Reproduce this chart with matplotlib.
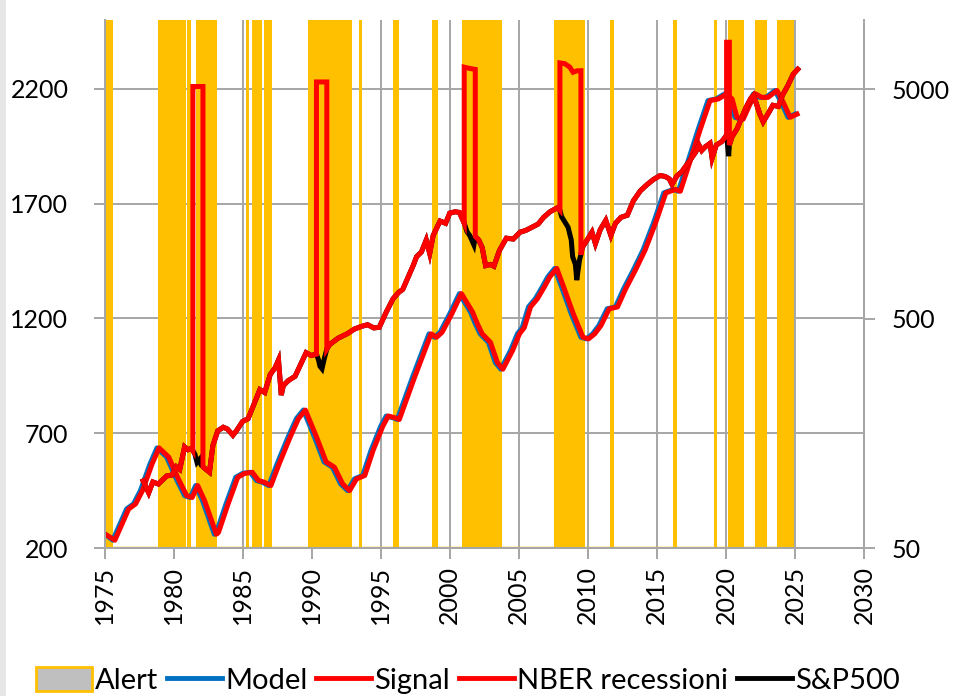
import matplotlib.pyplot as plt
from matplotlib.patches import Patch, Rectangle
from matplotlib.lines import Line2D
from matplotlib.ticker import NullLocator

plt.rcParams['font.family'] = ['Lato', 'DejaVu Sans']

# alert periods (start / end, in years)
alert_start = [1975.0, 1978.91, 1980.99, 1981.64, 1985.27, 1985.67, 1986.52, 1989.73, 1993.43,
               1995.89, 1998.72, 2000.87, 2007.54, 2011.62, 2016.14, 2019.15, 2020.12, 2022.10, 2023.72]
alert_end = [1975.6, 1980.92, 1981.23, 1983.17, 1985.46, 1986.40, 1987.15, 1992.92, 1993.67,
             1996.33, 1999.18, 2003.77, 2009.76, 2011.93, 2016.49, 2019.33, 2021.28, 2022.95, 2024.95]

# model (left axis)
model_years = [1975.0, 1975.6, 1976.6, 1977.1, 1977.6, 1978.3, 1978.8, 1979.5, 1980.2, 1980.8,
               1981.2, 1981.6, 1982.1, 1982.95, 1983.1, 1983.8, 1984.5, 1985.0, 1985.55, 1986.0,
               1986.4, 1986.9, 1987.5, 1988.3, 1988.9, 1989.4, 1990.2, 1990.9, 1991.5, 1992.1,
               1992.6, 1993.1, 1993.7, 1994.3, 1995.0, 1995.4, 1995.9, 1996.2, 1997.3, 1998.5,
               1998.9, 1999.3, 2000.0, 2000.7, 2001.5, 2001.85, 2002.2, 2002.8, 2003.3, 2003.7,
               2004.4, 2004.9, 2005.25, 2005.7, 2006.2, 2006.7, 2007.1, 2007.6, 2008.1, 2008.8,
               2009.5, 2009.9, 2010.35, 2010.8, 2011.4, 2012.0, 2012.6, 2013.3, 2014.0, 2014.75,
               2015.5, 2016.2, 2016.55, 2017.3, 2018.0, 2018.7, 2019.3, 2019.9, 2020.3, 2020.65,
               2021.1, 2021.6, 2022.0, 2022.45, 2022.9, 2023.55, 2024.0, 2024.5, 2025.0]
model_vals = [262, 234, 370, 392, 450, 567, 636, 596, 501, 428,
              420, 472, 406, 260, 267, 392, 508, 525, 530, 494,
              487, 472, 567, 684, 764, 801, 684, 575, 552, 479,
              450, 501, 516, 625, 730, 775, 767, 760, 943, 1133,
              1118, 1140, 1220, 1308, 1228, 1177, 1133, 1096, 1008, 979,
              1060, 1133, 1160, 1250, 1286, 1337, 1381, 1418, 1337, 1220,
              1118, 1111, 1133, 1169, 1242, 1250, 1330, 1411, 1498, 1615,
              1747, 1762, 1754, 1893, 2025, 2149, 2156, 2178, 2156, 2076,
              2068, 2134, 2178, 2163, 2163, 2193, 2142, 2076, 2090]

# signal follows the model with a short lag
signal_years = [1975.0, 1975.75, 1976.75, 1977.25, 1977.75, 1978.45, 1978.95, 1979.65, 1980.35, 1980.95,
                1981.35, 1981.75, 1982.25, 1983.1, 1983.25, 1983.95, 1984.65, 1985.15, 1985.7, 1986.15,
                1986.55, 1987.05, 1987.65, 1988.45, 1989.05, 1989.55, 1990.35, 1991.05, 1991.65, 1992.25,
                1992.75, 1993.25, 1993.85, 1994.45, 1995.15, 1995.55, 1996.05, 1996.35, 1997.45, 1998.65,
                1999.05, 1999.45, 2000.15, 2000.85, 2001.65, 2002.0, 2002.35, 2002.95, 2003.45, 2003.85,
                2004.55, 2005.05, 2005.4, 2005.85, 2006.35, 2006.85, 2007.25, 2007.75, 2008.25, 2008.95,
                2009.65, 2010.05, 2010.5, 2010.95, 2011.55, 2012.15, 2012.75, 2013.45, 2014.15, 2014.9,
                2015.65, 2016.35, 2016.7, 2017.45, 2018.15, 2018.85, 2019.45, 2020.05, 2020.45, 2020.8,
                2021.25, 2021.75, 2022.15, 2022.6, 2023.05, 2023.7, 2024.15, 2024.65, 2025.15]
signal_vals = list(model_vals)

# S&P500 (right axis, log)
sp_years = [1977.8, 1978.2, 1978.5, 1978.9, 1979.5, 1979.9, 1980.2, 1980.45, 1980.8, 1981.05,
            1981.3, 1981.4, 1981.55, 1981.7, 1981.9, 1982.0, 1982.13, 1982.35, 1982.6, 1982.85,
            1983.2, 1983.6, 1983.9, 1984.3, 1984.55, 1985.0, 1985.4, 1985.8, 1986.25, 1986.6,
            1987.0, 1987.35, 1987.6, 1987.8, 1987.95, 1988.3, 1988.8, 1989.4, 1989.6, 1989.97,
            1990.35, 1990.5, 1990.6, 1990.75, 1990.92, 1991.1, 1991.3, 1991.9, 1992.6, 1993.1,
            1993.6, 1994.05, 1994.5, 1994.9, 1995.4, 1995.9, 1996.3, 1996.6, 1997.0, 1997.35,
            1997.6, 1997.95, 1998.3, 1998.55, 1998.8, 1999.3, 1999.7, 2000.0, 2000.4, 2000.7,
            2001.05, 2001.25, 2001.45, 2001.75, 2001.85, 2002.1, 2002.35, 2002.6, 2002.95, 2003.2,
            2003.6, 2004.1, 2004.6, 2005.1, 2005.5, 2005.95, 2006.4, 2006.8, 2007.26, 2007.8,
            2007.98, 2008.1, 2008.33, 2008.57, 2008.8, 2008.9, 2009.1, 2009.2, 2009.4, 2009.5,
            2009.6, 2009.95, 2010.3, 2010.55, 2010.9, 2011.3, 2011.67, 2012.0, 2012.4, 2012.86,
            2013.3, 2013.8, 2014.3, 2014.76, 2015.24, 2015.6, 2015.9, 2016.1, 2016.45, 2016.8,
            2017.3, 2017.8, 2018.05, 2018.25, 2018.5, 2018.85, 2019.0, 2019.3, 2019.7, 2020.05,
            2020.2, 2020.25, 2020.45, 2020.8, 2021.1, 2021.45, 2021.8, 2022.0, 2022.45, 2022.7,
            2023.1, 2023.4, 2023.8, 2024.1, 2024.5, 2024.87, 2025.2]
sp_vals = [98, 87, 97, 95, 103, 104, 113, 110, 138, 134,
           136, 133, 128, 118, 122, 115, 113, 110, 107, 140,
           162, 168, 165, 155, 162, 178, 183, 210, 245, 238,
           285, 305, 330, 232, 255, 268, 280, 335, 355, 345,
           350, 330, 310, 302, 335, 368, 385, 410, 430, 450,
           462, 470, 455, 458, 533, 610, 650, 670, 760, 850,
           930, 975, 1100, 960, 1150, 1330, 1300, 1440, 1460, 1450,
           1300, 1196, 1150, 1047, 1140, 1100, 1020, 850, 860, 845,
           990, 1120, 1110, 1190, 1210, 1250, 1290, 1380, 1460, 1520,
           1480, 1390, 1320, 1250, 1100, 930, 860, 735, 900, 950,
           1020, 1100, 1190, 1060, 1220, 1340, 1150, 1300, 1380, 1410,
           1630, 1800, 1920, 2020, 2100, 2080, 2030, 1920, 2090, 2180,
           2400, 2650, 2850, 2700, 2800, 2900, 2500, 2850, 2950, 3150,
           2550, 2850, 3100, 3350, 3700, 4150, 4550, 4700, 3900, 3600,
           3950, 4250, 4200, 4700, 5200, 5800, 6100]

# NBER recessions: level of the red line (right axis) while a recession is on
nber_tops = [
    [(1981.4, 5130), (1982.13, 5130)],
    [(1990.35, 5370), (1991.1, 5370)],
    [(2001.05, 6230), (2001.45, 6150), (2001.85, 6090)],
    [(2007.98, 6500), (2008.33, 6450), (2008.7, 6230), (2008.93, 5920), (2009.2, 6000), (2009.5, 6010)],
    [(2020.05, 8000), (2020.25, 8000)],
]


def nber_line(xs, vs, tops):
    rx, ry = [], []
    for x, v in zip(xs, vs):
        if any(t[0][0] < x < t[-1][0] for t in tops):
            continue
        rx.append(x)
        ry.append(v)
        for t in tops:
            if t[0][0] == x:
                rx += [p[0] for p in t]
                ry += [p[1] for p in t]
    return rx, ry


YELLOW = '#FFC000'
GRID = '#A6A6A6'
LW = 3.6

fig = plt.figure(figsize=(9.61, 6.96), dpi=100)
fig.add_artist(Rectangle((0, 0), 6 / 961, 1, transform=fig.transFigure, color='#E6E6E6', lw=0))
ax = fig.add_axes([104.5 / 961, 1 - 548 / 696, (864 - 104.5) / 961, (548 - 20) / 696])

ax.set_xlim(1975, 2030)
ax.set_ylim(200, 2500)
ax.set_xticks(range(1975, 2031, 5))
ax.set_yticks(range(200, 2201, 500))
ax.grid(True, color=GRID, lw=1.4, zorder=0)
ax.set_axisbelow(True)

for s, e in zip(alert_start, alert_end):
    ax.axvspan(s, e, color=YELLOW, lw=0, zorder=1)
ax.hlines(200, alert_start[0], alert_end[-1], color=YELLOW, lw=2.5, zorder=1.5)

ax.plot(model_years, model_vals, color='#0070C0', lw=LW, zorder=3, solid_joinstyle='round')
ax.plot(signal_years, signal_vals, color='#FF0000', lw=LW, zorder=4, solid_joinstyle='round')

ax2 = ax.twinx()
ax2.set_yscale('log')
ax2.set_ylim(50, 10000)
ax2.set_yticks([50, 500, 5000])
ax2.set_yticklabels(['50', '500', '5000'])
ax2.yaxis.set_minor_locator(NullLocator())

nx, ny = nber_line(sp_years, sp_vals, nber_tops)
ax2.plot(sp_years, sp_vals, color='black', lw=LW, zorder=3, solid_joinstyle='miter')
ax2.plot(nx, ny, color='#FF0000', lw=LW, zorder=4, solid_joinstyle='miter')

for a in (ax, ax2):
    a.spines['top'].set_visible(False)
    for side in ('left', 'right', 'bottom'):
        a.spines[side].set_color(GRID)
        a.spines[side].set_linewidth(1.4)

ax.tick_params(axis='y', direction='out', length=8, color=GRID, width=1.4, labelsize=18, pad=18)
ax.tick_params(axis='x', direction='out', length=8, color=GRID, width=1.4, labelsize=18,
               labelrotation=90, pad=5)
ax2.tick_params(axis='y', direction='out', length=8, color=GRID, width=1.4, labelsize=18, pad=12)

handles = [Patch(facecolor='#BFBFBF', edgecolor=YELLOW, lw=2),
           Line2D([], [], color='#0070C0', lw=3.5),
           Line2D([], [], color='#FF0000', lw=3.5),
           Line2D([], [], color='#FF0000', lw=3.5),
           Line2D([], [], color='black', lw=3.5)]
labels = ['Alert', 'Model', 'Signal', 'NBER recessioni', 'S&P500']
fig.legend(handles, labels, loc='lower center', bbox_to_anchor=(0.487, -0.035), ncol=5,
           frameon=False, fontsize=21, handlelength=1.9, handleheight=0.85,
           handletextpad=0.1, columnspacing=0.3)

fig.savefig('out.png', dpi=100)
